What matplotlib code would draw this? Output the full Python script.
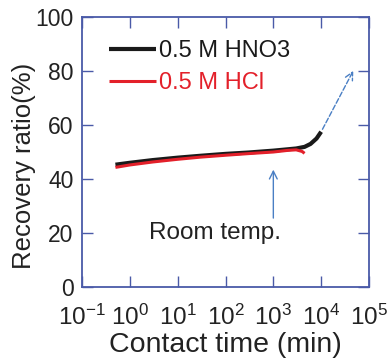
import matplotlib
matplotlib.use("Agg")
import matplotlib.pyplot as plt

plt.rcParams['font.family'] = ['Liberation Sans', 'DejaVu Sans']
plt.rcParams['mathtext.fontset'] = 'custom'
plt.rcParams['mathtext.rm'] = 'Liberation Sans'
plt.rcParams['mathtext.it'] = 'Liberation Sans'

# data
hno3_t = [0.5, 1, 3, 10, 30, 100, 300, 1000, 2000, 3000, 4500, 6000, 8000, 10000]
hno3_y = [45.3, 46.0, 47.0, 47.9, 48.6, 49.3, 49.8, 50.5, 51.0, 51.3, 51.9, 53.0, 55.0, 57.5]
hcl_t = [0.5, 1, 3, 10, 30, 100, 300, 1000, 2000, 3000, 4000, 4500]
hcl_y = [44.3, 45.2, 46.3, 47.3, 48.1, 48.8, 49.4, 50.0, 50.6, 50.8, 50.2, 49.5]
trend_t = [10000, 50000]
trend_y = [57.5, 81.0]

xticks = [1e-1, 1e0, 1e1, 1e2, 1e3, 1e4, 1e5]
xlabels = ['$\\mathregular{10^{-1}}$', '$\\mathregular{10^{0}}$', '$\\mathregular{10^{1}}$',
           '$\\mathregular{10^{2}}$', '$\\mathregular{10^{3}}$', '$\\mathregular{10^{4}}$',
           '$\\mathregular{10^{5}}$']
yticks = [0, 20, 40, 60, 80, 100]

axcol = '#4a5aa8'
arrcol = '#4a7fc4'
txtcol = '#222222'

fig = plt.figure(figsize=(3.9, 3.61), dpi=100)
ax = fig.add_axes([82/390, 1 - 287/361, 287/390, 270/361])

ax.plot(hno3_t, hno3_y, color='#1a1a1a', lw=3.0, solid_capstyle='butt', label='0.5 M HNO3')
ax.plot(hcl_t, hcl_y, color='#e3202a', lw=2.2, solid_capstyle='butt', label='0.5 M HCl')

ax.annotate('', xy=(trend_t[1], trend_y[1]), xytext=(trend_t[0], trend_y[0]),
            arrowprops=dict(arrowstyle='->', color=arrcol, lw=1.0, ls='--',
                            mutation_scale=14))
ax.annotate('', xy=(1000, 44.5), xytext=(1000, 24.5),
            arrowprops=dict(arrowstyle='->', color=arrcol, lw=1.0, mutation_scale=14))
ax.text(60, 20, 'Room temp.', fontsize=17.5, ha='center', va='center', color=txtcol)

ax.set_xscale('log')
ax.set_xlim(1e-1, 1e5)
ax.set_ylim(0, 100)
ax.set_xticks(xticks)
ax.set_xticklabels(xlabels)
ax.set_yticks(yticks)
ax.minorticks_off()
ax.tick_params(direction='in', length=8, width=1.0, color=axcol, top=True, right=True,
               labelcolor=txtcol)
ax.tick_params(axis='x', labelsize=17.5, pad=13)
ax.tick_params(axis='y', labelsize=16.5, pad=6)
for s in ax.spines.values():
    s.set_color(axcol)
    s.set_linewidth(1.3)

ax.set_xlabel('Contact time (min)', fontsize=20.5, color=txtcol, labelpad=1)
ax.set_ylabel('Recovery ratio(%)', fontsize=18.5, color=txtcol)
ax.yaxis.set_label_coords(-0.16, 0.45)

leg = ax.legend(loc='upper left', bbox_to_anchor=(0.06, 0.95), frameon=False,
                fontsize=17, handlelength=2.0, handletextpad=0.15, labelspacing=0.42,
                borderaxespad=0)
for txt, c in zip(leg.get_texts(), ['#1a1a1a', '#e3202a']):
    txt.set_color(c)

plt.savefig('out.png', dpi=100)
